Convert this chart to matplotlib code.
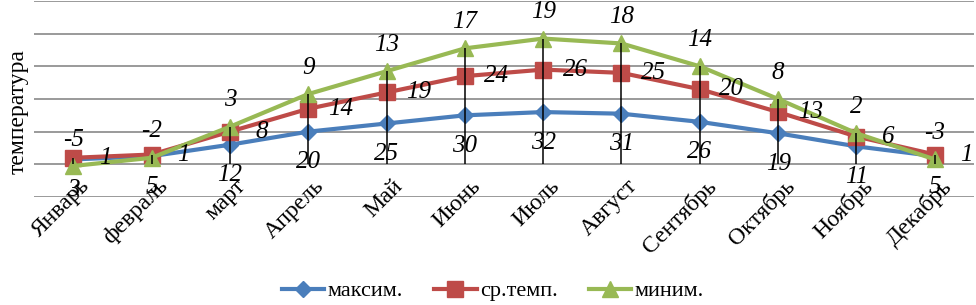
import matplotlib.pyplot as plt
import numpy as np

plt.rcParams['font.family'] = ['Liberation Serif', 'DejaVu Serif']

months = ['Январь', 'февраль', 'март', 'Апрель', 'Май', 'Июнь', 'Июль',
          'Август', 'Сентябрь', 'Октябрь', 'Ноябрь', 'Декабрь']
t_max = [3, 5, 12, 20, 25, 30, 32, 31, 26, 19, 11, 5]
t_avg = [1, 1, 8, 14, 19, 24, 26, 25, 20, 13, 6, 1]
t_min = [-5, -2, 3, 9, 13, 17, 19, 18, 14, 8, 2, -3]

# stacked line chart (as in the Excel original)
s1 = np.array(t_max)
s2 = s1 + np.array(t_avg)
s3 = s2 + np.array(t_min)
x = np.arange(len(months))

fig = plt.figure(figsize=(9.76, 3.05), dpi=100)
ax = fig.add_axes([34/976, 1 - 197/305, 940/976, 196/305])

c_blue = '#4A7EBB'
c_red = '#BE4B48'
c_green = '#98B954'

for yv in range(-20, 101, 20):
    ax.axhline(yv, color='#9a9a9a', lw=1.4, zorder=0)

ax.plot(x, s1, color=c_blue, lw=3, marker='D', ms=8, label='максим.', zorder=3)
ax.plot(x, s2, color=c_red, lw=3, marker='s', ms=11, label='ср.темп.', zorder=4)
ax.plot(x, s3, color=c_green, lw=3, marker='^', ms=11, label='миним.', zorder=5)

top = np.maximum(np.maximum(s1, s2), s3)
ax.vlines(x, 0, top, color='black', lw=1.1, zorder=6)

lab = dict(fontsize=18, style='italic', textcoords='offset points', zorder=7)
for i in x:
    ax.annotate(str(t_max[i]), (i, s1[i]), xytext=(0, -22), ha='center', va='center', **lab)
    ax.annotate(str(t_avg[i]), (i, s2[i]), xytext=(23, 0), ha='center', va='center', **lab)
    ax.annotate(str(t_min[i]), (i, s3[i]), xytext=(0, 19), ha='center', va='center', **lab)
    ax.annotate(months[i], (i, 0), xytext=(4, -8), textcoords='offset points',
                rotation=45, ha='right', va='top', rotation_mode='anchor',
                fontsize=17, zorder=7)

ax.set_xlim(-0.5, 11.5)
ax.set_ylim(-20, 100)
ax.set_xticks([])
ax.set_yticks([])
for sp in ax.spines.values():
    sp.set_visible(False)
ax.patch.set_alpha(0)

fig.text(18/976, 1 - 112/305, 'температура', rotation=90, ha='center', va='center', fontsize=17)

fig.legend(loc='center', bbox_to_anchor=(0.505, 1 - 291/305), ncol=3, frameon=False,
           fontsize=16, handlelength=1.9, columnspacing=1.4, handletextpad=0.15)

fig.savefig('out.png', dpi=100)
